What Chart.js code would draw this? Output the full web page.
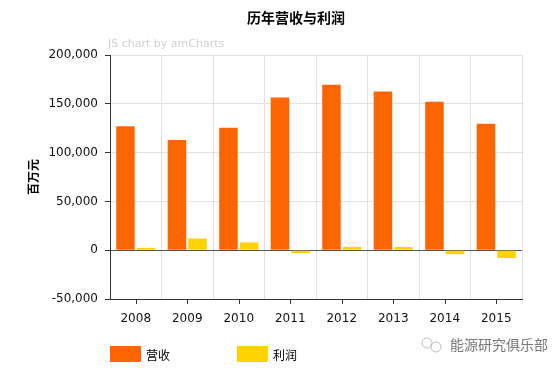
<!DOCTYPE html>
<html>
<head>
<meta charset="utf-8">
<script src="https://cdn.jsdelivr.net/npm/chart.js@4/dist/chart.umd.min.js"></script>
<style>
  html, body { margin: 0; padding: 0; background: #fff; }
  #wrap { width: 558px; height: 370px; position: relative; }
</style>
</head>
<body>
<div id="wrap"><canvas id="bar-chartcanvas"></canvas></div>
<script>
// data (百万元)
var years = ["2008", "2009", "2010", "2011", "2012", "2013", "2014", "2015"];
var revenue = [127000, 113000, 125500, 156500, 169500, 162500, 152000, 129500];
var profit = [2400, 12000, 8000, -3000, 3400, 3300, -4000, -8000];
var seriesNames = ["营收", "利润"];
var seriesColors = ["#FF6600", "#FCD202"];
var yTicks = [-50000, 0, 50000, 100000, 150000, 200000];

var titleText = "历年营收与利润";
var yTitle = "百万元";

// extra bits: title, watermark, tick marks under categories, legend
var extras = {
    id: "extras",
    afterDraw: function(chart) {
        var ctx = chart.ctx;
        var x = chart.scales.x;
        var area = chart.chartArea;
        ctx.save();

        // x tick marks at category centres
        ctx.strokeStyle = "#333";
        ctx.lineWidth = 1;
        for (var i = 0; i < years.length; i++) {
            var px = Math.round(x.getPixelForTick(i)) + 0.5;
            ctx.beginPath();
            ctx.moveTo(px, area.bottom);
            ctx.lineTo(px, area.bottom + 5);
            ctx.stroke();
        }

        // title
        ctx.fillStyle = "#000";
        ctx.font = "bold 14px 'Noto Sans CJK SC'";
        ctx.textAlign = "center";
        ctx.textBaseline = "middle";
        ctx.fillText(titleText, 296, 18);

        // amCharts watermark
        ctx.fillStyle = "#cfcfcf";
        ctx.font = "11px 'DejaVu Sans'";
        ctx.textAlign = "left";
        ctx.fillText("JS chart by amCharts", 108, 44);

        // legend
        ctx.font = "12px 'Noto Sans CJK SC'";
        var legendX = [110, 237];
        chart.data.datasets.forEach(function(ds, k) {
            ctx.fillStyle = ds.backgroundColor;
            ctx.fillRect(legendX[k], 346, 31, 16);
            ctx.fillStyle = "#000";
            ctx.fillText(ds.label, legendX[k] + 36, 355);
        });

        // wechat watermark
        ctx.fillStyle = "#777";
        ctx.font = "14px 'Noto Sans CJK SC'";
        ctx.fillText("能源研究俱乐部", 450, 345);
        ctx.strokeStyle = "#bbb";
        ctx.beginPath();
        ctx.arc(427, 343, 5, 0, Math.PI * 2);
        ctx.stroke();
        ctx.beginPath();
        ctx.arc(436, 347, 5, 0, Math.PI * 2);
        ctx.stroke();

        ctx.restore();
    }
};

var ctx1 = document.getElementById("bar-chartcanvas");

var data1 = {
    labels: years,
    datasets: [
        {
            label: seriesNames[0],
            data: revenue,
            backgroundColor: seriesColors[0],
            borderWidth: 0
        },
        {
            label: seriesNames[1],
            data: profit,
            backgroundColor: seriesColors[1],
            borderWidth: 0
        }
    ]
};

var options1 = {
    responsive: true,
    maintainAspectRatio: false,
    animation: false,
    layout: {
        padding: { left: 0, right: 36, top: 55, bottom: 40 }
    },
    plugins: {
        legend: { display: false },
        title: { display: false },
        tooltip: { enabled: false }
    },
    scales: {
        x: {
            categoryPercentage: 0.9,
            barPercentage: 0.82,
            afterFit: function(scale) { scale.height = 31; },
            grid: {
                offset: true,
                color: "#e2e2e2",
                drawTicks: false
            },
            border: { color: "#333", width: 1 },
            ticks: {
                color: "#111",
                padding: 13,
                font: { family: "DejaVu Sans", size: 12 }
            }
        },
        y: {
            min: -50000,
            max: 200000,
            afterFit: function(scale) { scale.width = 110; },
            afterBuildTicks: function(scale) {
                scale.ticks = yTicks.map(function(v) { return { value: v }; });
            },
            grid: {
                color: function(c) {
                    return c.tick && c.tick.value === 0 ? "#555" : "#e2e2e2";
                },
                tickColor: "#333",
                tickLength: 5
            },
            border: { color: "#333", width: 1 },
            ticks: {
                color: "#111",
                padding: 7,
                font: { family: "DejaVu Sans", size: 12 },
                callback: function(v) { return v.toLocaleString("en-US"); }
            },
            title: {
                display: true,
                text: yTitle,
                color: "#000",
                padding: { top: 26, bottom: 0 },
                font: { family: "Noto Sans CJK SC", size: 12, weight: "bold" }
            }
        }
    }
};

var chart1 = new Chart(ctx1, {
    type: "bar",
    data: data1,
    options: options1,
    plugins: [extras]
});
</script>
</body>
</html>
